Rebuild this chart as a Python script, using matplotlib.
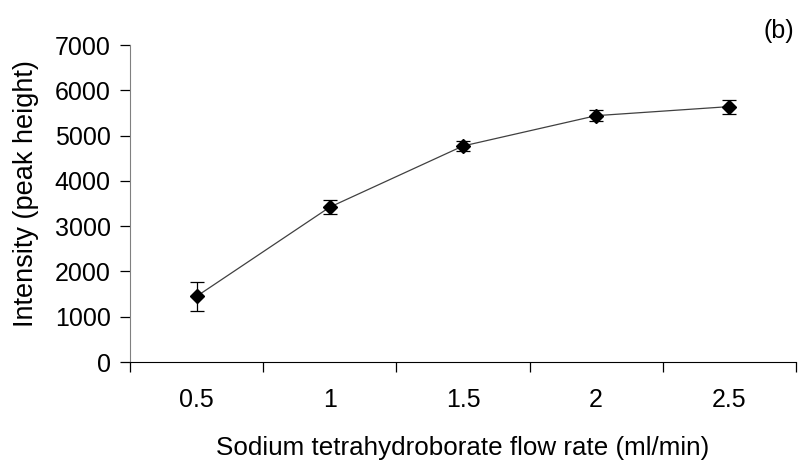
import matplotlib.pyplot as plt

plt.rcParams['font.family'] = ['Liberation Sans', 'DejaVu Sans']

# flow rate categories and measured intensity
flow_rates = ['0.5', '1', '1.5', '2', '2.5']
intensity = [1450, 3420, 4770, 5440, 5640]
errors = [325, 150, 115, 115, 155]

fig = plt.figure(figsize=(8.04, 4.65), dpi=100)
ax = fig.add_axes([0.1617, 0.2215, 0.8283, 0.6817])

pos = range(len(flow_rates))
ax.errorbar(pos, intensity, yerr=errors, color='#404040', lw=0.9,
            marker='D', markersize=7, markerfacecolor='black', markeredgecolor='black',
            ecolor='black', elinewidth=0.9, capsize=4.8, capthick=0.9)

ax.set_xlim(-0.5, len(flow_rates) - 0.5)
ax.set_ylim(0, 7000)
ax.set_yticks(range(0, 7001, 1000))

# ticks between the categories, labels at the centers
ax.set_xticks([i - 0.5 for i in range(len(flow_rates) + 1)])
ax.set_xticklabels([])
ax.set_xticks(list(pos), minor=True)
ax.set_xticklabels(flow_rates, minor=True)
ax.tick_params(axis='x', which='major', length=7, width=0.9, color='black')
ax.tick_params(axis='x', which='minor', length=0, pad=19, labelsize=18)
ax.tick_params(axis='y', length=7, width=0.9, labelsize=18, pad=7)

for s in ['top', 'right']:
    ax.spines[s].set_visible(False)
ax.spines['left'].set_color('#808080')
ax.spines['bottom'].set_color('black')

ax.set_ylabel('Intensity (peak height)', fontsize=19.5)
ax.yaxis.set_label_coords(-0.137, 0.53)
ax.set_xlabel('Sodium tetrahydroborate flow rate (ml/min)', fontsize=18.7, labelpad=17)
fig.text(0.969, 0.933, '(b)', fontsize=18, ha='center', va='center')

fig.savefig('out.png', dpi=100)
